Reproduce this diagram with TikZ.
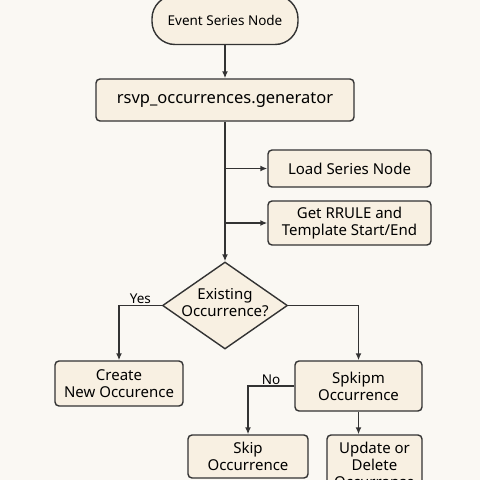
\documentclass[tikz,border=0pt]{standalone}
\usepackage{fontspec}
\setmainfont{Noto Sans}
\usetikzlibrary{shapes,arrows.meta,positioning,calc}
\definecolor{paper}{HTML}{FAF8F3}
\definecolor{cream}{HTML}{F8F0E2}
\definecolor{ink}{HTML}{333333}

\tikzset{
  box/.style={draw=ink, fill=cream, line width=1.4pt, rounded corners=4pt,
    align=center, inner sep=2pt, font=\fontsize{15}{17}\selectfont},
  flow/.style={->, draw=ink, line width=1.4pt},
  tag/.style={above, inner sep=1pt, font=\fontsize{13.5}{15}\selectfont},
}

\begin{document}
\begin{tikzpicture}[x=1pt, y=-1pt, >={Latex[length=7pt,width=6pt]}]
  \fill[paper] (0,0) rectangle (480,480);
  \useasboundingbox (0,0) rectangle (480,480);

  % Start and generator
  \node[box, rounded corners=23pt, minimum width=146pt, minimum height=49pt,
    font=\fontsize{13.5}{16}\selectfont] (start) at (225,20) {Event Series Node};
  \node[box, minimum width=258pt, minimum height=42pt,
    font=\fontsize{16.5}{20}\selectfont] (gen) at (225,100) {rsvp\_occurrences.generator};

  % Side steps
  \node[box, minimum width=163pt, minimum height=37pt] (load) at (349.5,168.5) {Load Series Node};
  \node[box, minimum width=163pt, minimum height=44pt] (rrule) at (349.5,223) {Get RRULE and\\Template Start/End};

  % Decision
  \node[box, diamond, sharp corners, minimum width=125pt, minimum height=87pt, inner sep=0pt,
    label={[align=center, yshift=3pt, font=\fontsize{15}{17}\selectfont]center:Existing\\Occurrence?}]
    (dec) at (225,305.5) {};

  % Outcomes
  \node[box, minimum width=128pt, minimum height=45pt] (create) at (119,383.5) {Create\\New Occurence};
  \node[box, minimum width=127pt, minimum height=50pt] (spk) at (358.5,386) {Spkipm\\Occurrence};
  \node[box, minimum width=120pt, minimum height=43pt] (skip) at (248,456.5) {Skip\\Occurrence};
  \node[box, minimum width=95pt, minimum height=60pt] (upd) at (374.5,465) {Update or\\Delete\\Occurranse};

  % Connectors
  \draw[flow] (start) -- (gen);
  \draw[flow] (gen.south) -- (dec.north);
  \draw[flow] (gen.south |- load.west) -- (load);
  \draw[flow] (gen.south |- rrule.west) -- (rrule);
  \draw[flow] (dec.west) -| node[tag, pos=0.25] {Yes} (create);
  \draw[flow] (dec.east) -| (spk);
  \draw[flow] (spk.west) -| node[tag, pos=0.25] {No} (skip);
  \draw[flow] (spk.south) -- (spk.south |- upd.north);
\end{tikzpicture}
\end{document}
